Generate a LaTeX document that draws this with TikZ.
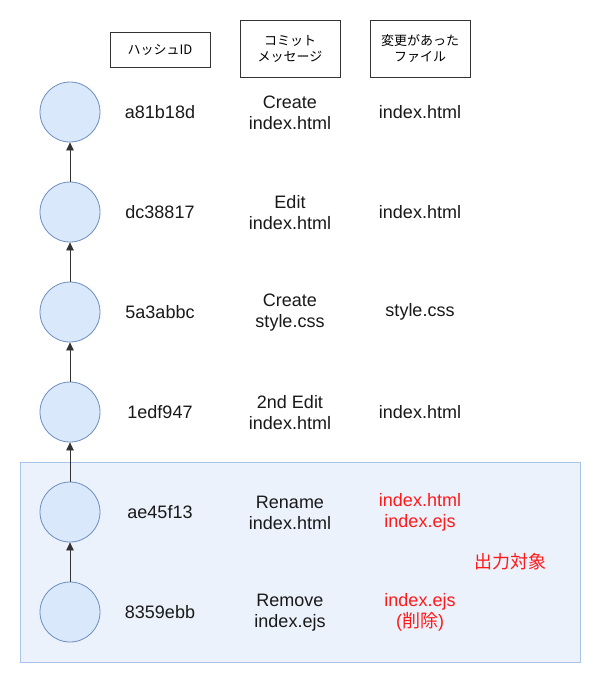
\documentclass[tikz,border=0pt]{standalone}
\usepackage{fontspec}
\setmainfont{Liberation Sans}
\newfontfamily\jp{Noto Sans CJK JP}
\usetikzlibrary{arrows.meta}
\definecolor{cfill}{HTML}{DAE8FC}
\definecolor{cline}{HTML}{6C8EBF}
\definecolor{afill}{HTML}{EBF2FC}
\definecolor{aline}{HTML}{A9C4EB}
\definecolor{redtxt}{HTML}{FF1A1A}
\definecolor{arr}{HTML}{333333}
\tikzset{
  commit/.style={circle, draw=cline, fill=cfill, minimum size=60pt, inner sep=0pt, line width=0.8pt},
  hdr/.style={draw=black!80, line width=1pt, fill=white, align=center, inner sep=0pt, font=\jp\fontsize{13}{16}\selectfont},
  txt/.style={align=center, font=\fontsize{18}{21}\selectfont, text=black!90},
  rtxt/.style={txt, text=redtxt},
  link/.style={draw=arr, line width=0.8pt, -{Triangle[length=8pt,width=7.5pt]}},
}
\begin{document}
\begin{tikzpicture}[x=1pt,y=-1pt]
\useasboundingbox (0,0) rectangle (601,683);
\fill[white] (0,0) rectangle (601,683);
% highlight area
\path[draw=aline, fill=afill, line width=0.8pt] (20,462) rectangle (580,662);
% headers
\node[hdr, minimum width=100pt, minimum height=35pt] (h1) at (160,49.5) {ハッシュID};
\node[hdr, minimum width=100pt, minimum height=57pt] (h2) at (290,48.5) {コミット\\メッセージ};
\node[hdr, minimum width=100pt, minimum height=57pt] (h3) at (420,48.5) {変更があった\\ファイル};
% commits
\node[commit] (c1) at (70,112) {};
\node[commit] (c2) at (70,212) {};
\node[commit] (c3) at (70,312) {};
\node[commit] (c4) at (70,412) {};
\node[commit] (c5) at (70,512) {};
\node[commit] (c6) at (70,612) {};
\draw[link] (c2) -- (c1);
\draw[link] (c3) -- (c2);
\draw[link] (c4) -- (c3);
\draw[link] (c5) -- (c4);
\draw[link] (c6) -- (c5);
% hashes
\node[txt] (a1) at (160,112) {a81b18d};
\node[txt] (a2) at (160,212) {dc38817};
\node[txt] (a3) at (160,312) {5a3abbc};
\node[txt] (a4) at (160,412) {1edf947};
\node[txt] (a5) at (160,512) {ae45f13};
\node[txt] (a6) at (160,612) {8359ebb};
% messages
\node[txt] (m1) at (290,112.5) {Create\\index.html};
\node[txt] (m2) at (290,212.5) {Edit\\index.html};
\node[txt] (m3) at (290,312.5) {Create\\style.css};
\node[txt] (m4) at (290,412.5) {2nd Edit\\index.html};
\node[txt] (m5) at (290,512.5) {Rename\\index.html};
\node[txt] (m6) at (290,612.5) {Remove\\index.ejs};
% files
\node[txt] (f1) at (420,112) {index.html};
\node[txt] (f2) at (420,212) {index.html};
\node[txt] (f3) at (420,312) {style.css};
\node[txt] (f4) at (420,412) {index.html};
\node[rtxt] (f5) at (420,512.5) {index.html\\index.ejs};
\node[rtxt] (f6) at (420,612.5) {index.ejs\\({\jp 削除})};
\node[rtxt, font=\jp\fontsize{18}{21}\selectfont] (out) at (510,562) {出力対象};
\end{tikzpicture}
\end{document}
